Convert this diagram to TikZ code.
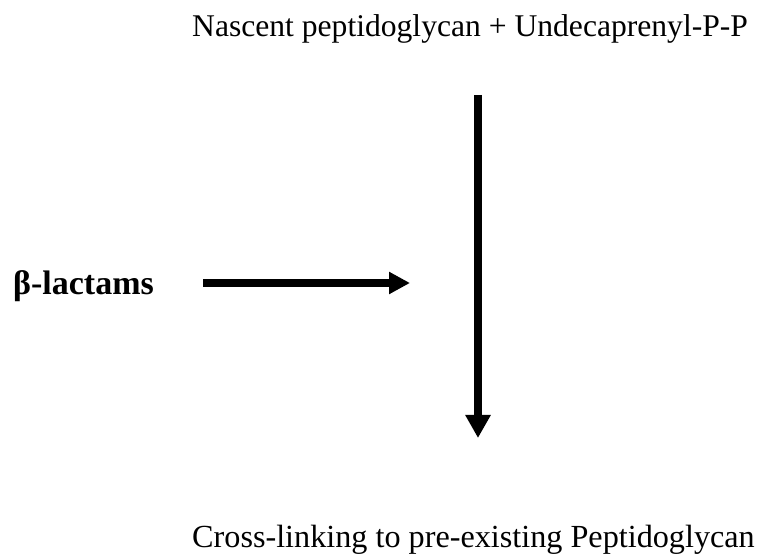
\documentclass[tikz,border=0pt]{standalone}
\usepackage{fontspec}
\setmainfont{Liberation Serif}
\usetikzlibrary{arrows.meta}
\tikzset{
  lbl/.style={inner sep=0pt, anchor=base west},
  blbl/.style={inner sep=0pt, anchor=base west, font=\fontsize{34}{40}\selectfont\bfseries},
  flow/.style={line width=8pt, -{Triangle[length=23pt,width=24pt]}}
}
\begin{document}
\begin{tikzpicture}[x=1pt,y=1pt]
\useasboundingbox (0,0) rectangle (757,559);
\node[lbl, font=\fontsize{31.6}{36}\selectfont] (top) at (192,522) {Nascent peptidoglycan + Undecaprenyl-P-P};
\node[lbl, font=\fontsize{32.2}{36}\selectfont] (bot) at (192,11) {Cross-linking to pre-existing Peptidoglycan};
\node[blbl] (beta) at (13,264) {β-lactams};
\coordinate (vs) at (478,464);
\coordinate (ve) at (478,121);
\coordinate (hs) at (203,276);
\coordinate (he) at (410,276);
\draw[flow] (vs) -- (ve);
\draw[flow, -{Triangle[length=21pt,width=21pt]}] (hs) -- (he);
\end{tikzpicture}
\end{document}
